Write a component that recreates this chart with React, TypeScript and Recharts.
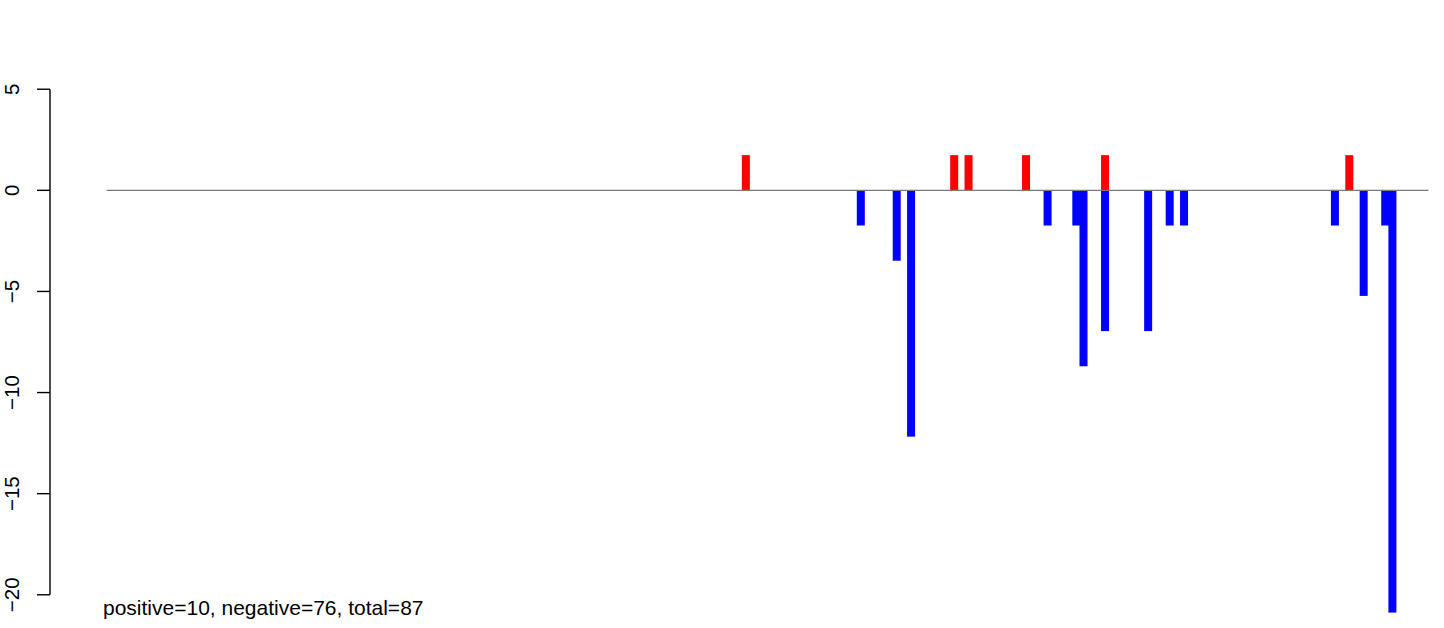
import React from 'react';
import { BarChart, Bar, XAxis, YAxis, ReferenceLine } from 'recharts';

// positions along the sequence (1..185) and the height of each mark
const N_POSITIONS = 185;
const UP_POSITIONS = [90, 119, 121, 129, 140, 174];
const UP_VALUES = [1.74, 1.74, 1.74, 1.74, 1.74, 1.74];
const DOWN_POSITIONS = [106, 111, 113, 132, 136, 137, 140, 146, 149, 151, 172, 176, 179, 180];
const DOWN_VALUES = [-1.74, -3.48, -12.18, -1.74, -1.74, -8.7, -6.96, -6.96, -1.74, -1.74, -1.74, -5.22, -1.74, -20.88];
const Y_TICKS = [5, 0, -5, -10, -15, -20];
const SUMMARY = 'positive=10, negative=76, total=87';

const FONT = '"Liberation Sans", Arial, Helvetica, sans-serif';
const BAR_W = 8;

const upMap = new Map(UP_POSITIONS.map((p, i) => [p, UP_VALUES[i]]));
const downMap = new Map(DOWN_POSITIONS.map((p, i) => [p, DOWN_VALUES[i]]));

const data = Array.from({ length: N_POSITIONS }, (_, i) => ({
    pos: String(i + 1),
    up: upMap.get(i + 1) ?? 0,
    down: downMap.get(i + 1) ?? 0,
}));

// R draws these as thick vertical lines, slightly wider than one slot
const LineBar = (props: any) => {
    const { x, y, width, height, fill } = props;
    if (!height) return <g />;
    const top = height < 0 ? y + height : y;
    const cx = x + width / 2;
    return <rect x={cx - BAR_W / 2} y={top} width={BAR_W} height={Math.abs(height)} fill={fill} />;
};

const fmt = (v: number) => (v < 0 ? `\u2212${-v}` : String(v));

const YTick = (props: any) => {
    const { x, y, payload } = props;
    return (
        <text
            transform={`translate(${x},${y}) rotate(-90)`}
            textAnchor="middle"
            fontSize={20.5}
            fontFamily={FONT}
            fill="#000"
        >
            {fmt(payload.value)}
        </text>
    );
};

export default function App() {
    return (
        <div style={{ position: 'absolute', left: 0, top: 0, width: 1444, height: 628, background: '#fff' }}>
            <BarChart
                width={1444}
                height={628}
                data={data}
                stackOffset="sign"
                barCategoryGap={0}
                barGap={0}
                margin={{ top: 69, right: 12, bottom: 13, left: 0 }}
            >
                <XAxis dataKey="pos" hide padding={{ left: 53, right: 0 }} />
                <XAxis xAxisId="frame" type="number" domain={[0, 1]} hide />
                <YAxis
                    type="number"
                    domain={[-21, 6]}
                    ticks={Y_TICKS}
                    width={50}
                    axisLine={false}
                    tickLine={{ stroke: '#000', strokeWidth: 1.4 }}
                    tickSize={13}
                    tickMargin={18}
                    tick={<YTick />}
                    interval={0}
                />
                <Bar dataKey="up" stackId="s" fill="#FF0000" shape={<LineBar />} isAnimationActive={false} />
                <Bar dataKey="down" stackId="s" fill="#0000FF" shape={<LineBar />} isAnimationActive={false} />
                <ReferenceLine
                    segment={[{ x: '1', y: 0 }, { x: String(N_POSITIONS), y: 0 }]}
                    stroke="#7a7a7a"
                    strokeWidth={1.2}
                />
                <ReferenceLine
                    xAxisId="frame"
                    segment={[{ x: 0, y: 5 }, { x: 0, y: -20 }]}
                    stroke="#000"
                    strokeWidth={1.4}
                    ifOverflow="visible"
                />
            </BarChart>
            <div
                style={{
                    position: 'absolute',
                    left: 103,
                    top: 597,
                    fontSize: 21,
                    lineHeight: '21px',
                    fontFamily: FONT,
                    color: '#000',
                    whiteSpace: 'nowrap',
                }}
            >
                {SUMMARY}
            </div>
        </div>
    );
}
